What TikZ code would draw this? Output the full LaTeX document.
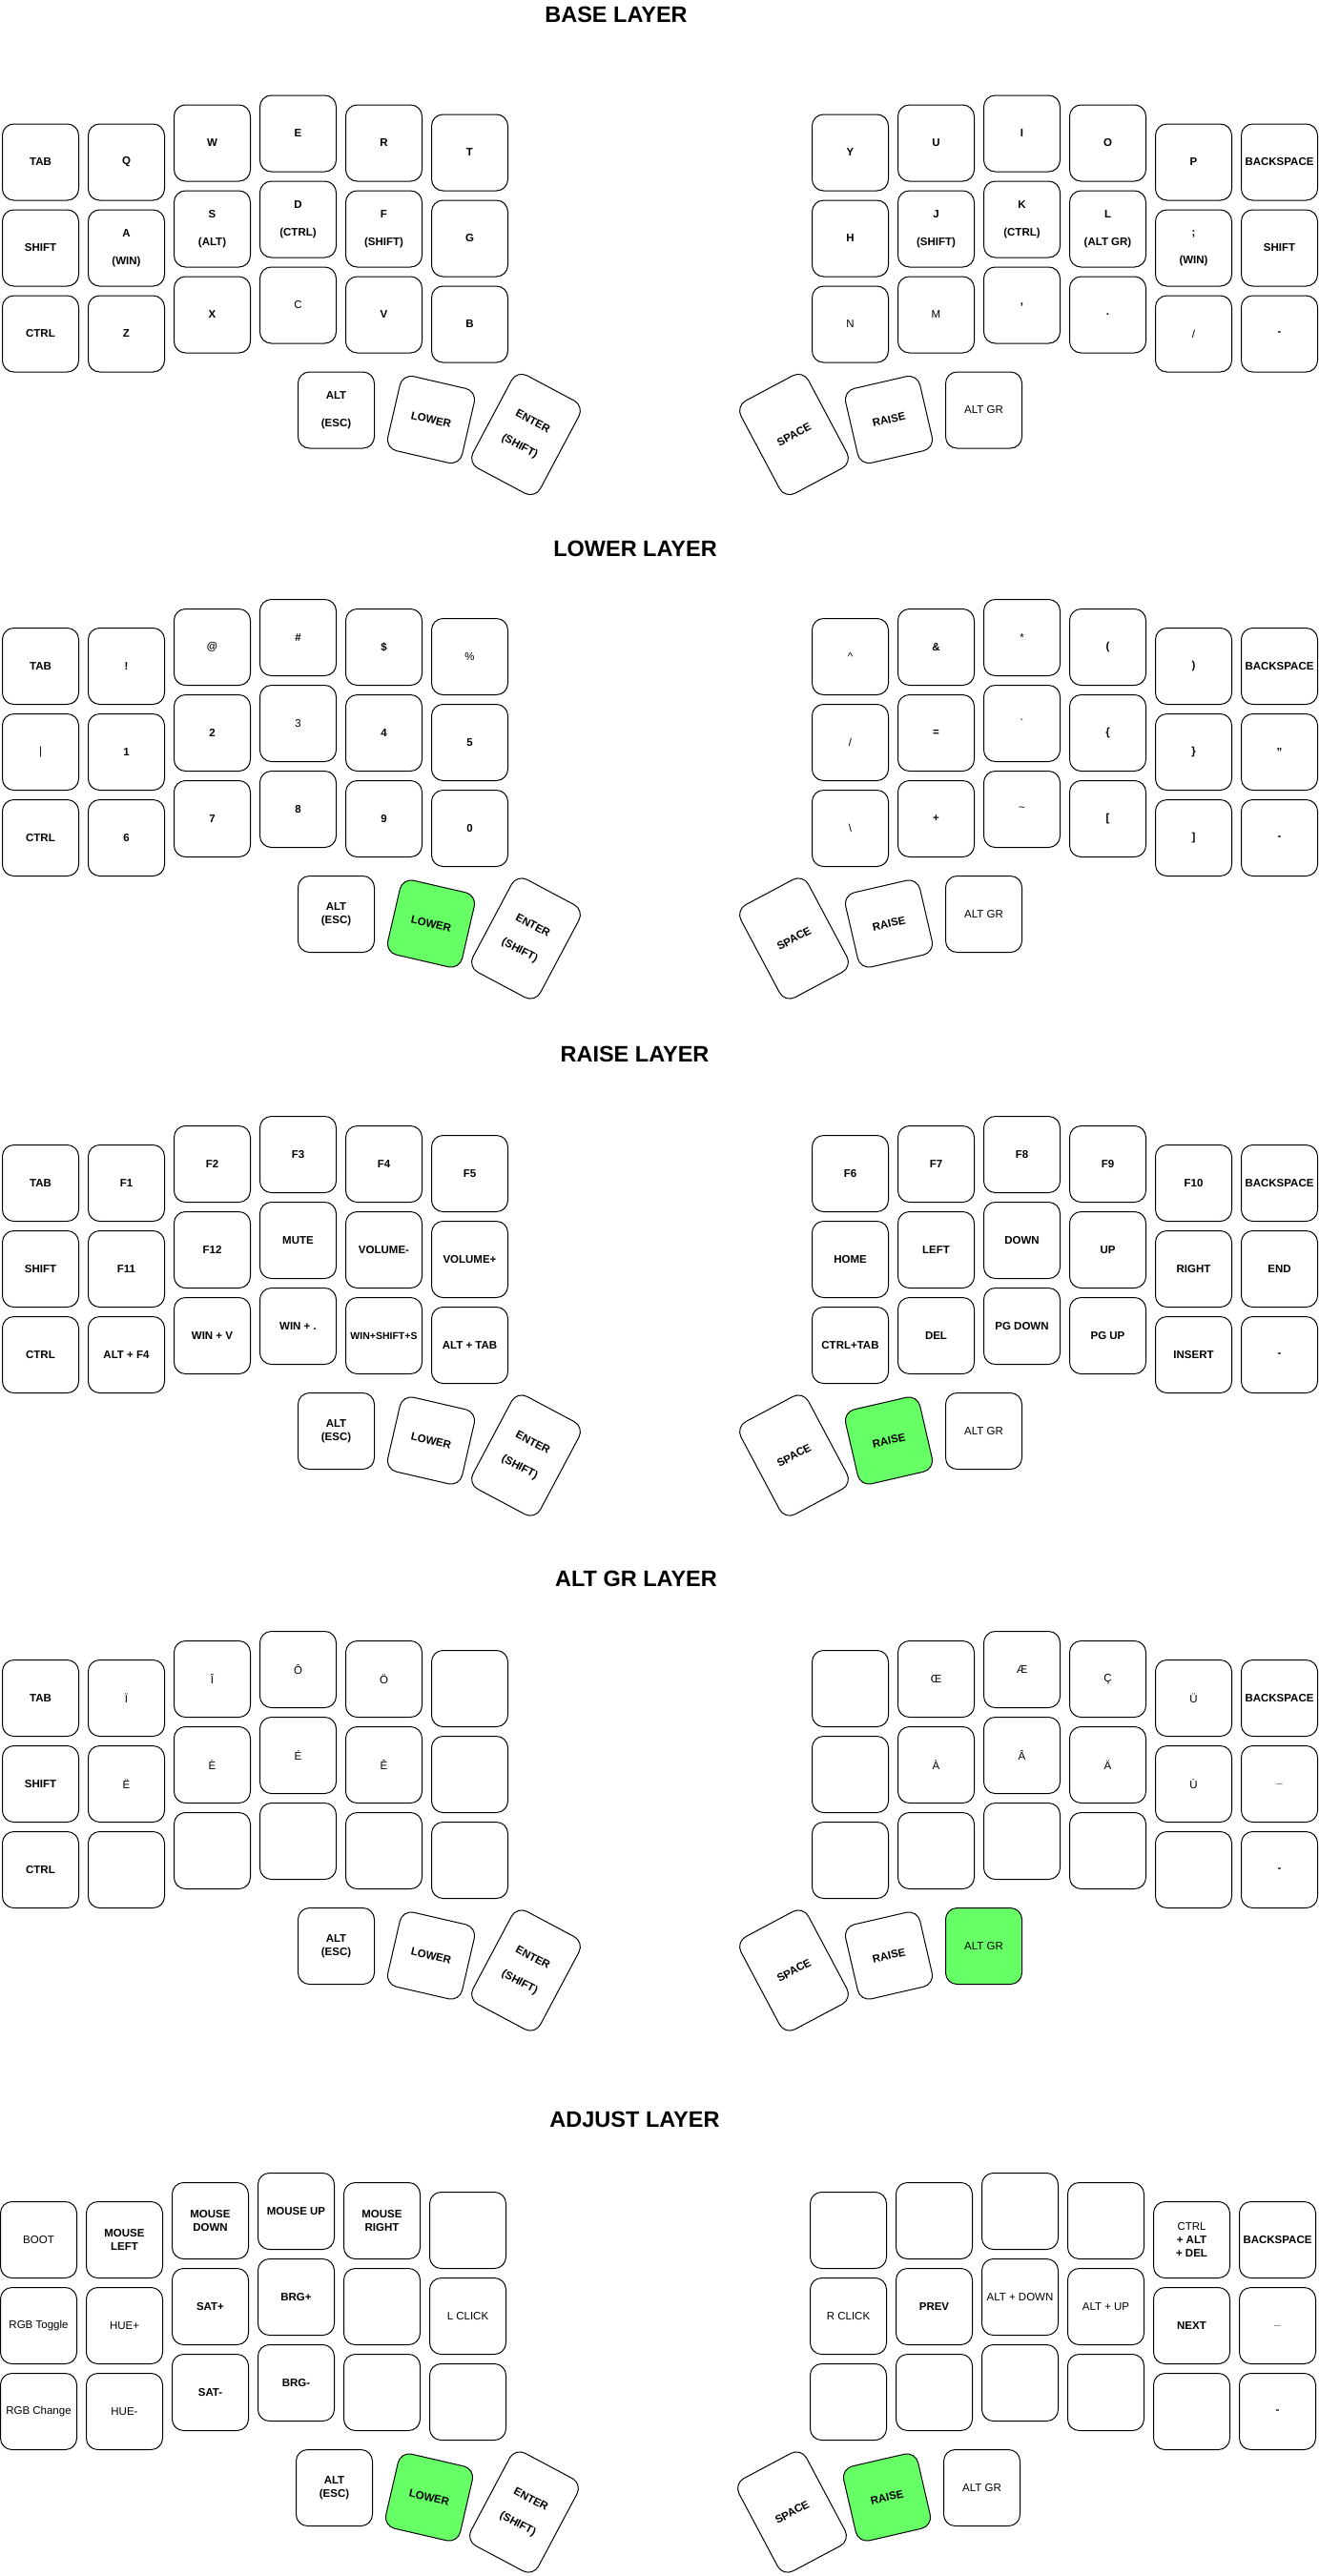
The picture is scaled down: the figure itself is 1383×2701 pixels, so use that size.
\documentclass[tikz,border=0pt]{standalone}
\usepackage{fontspec}
\setmainfont{Liberation Sans}
\usepackage{xcolor}
\definecolor{pressed}{RGB}{102,255,102}

\tikzset{
    key/.style={draw, line width=1pt, rounded corners=12pt, minimum width=80pt, minimum height=80pt,
        inner sep=0pt, align=center, font=\fontsize{11.5}{14}\selectfont\bfseries},
    tallkey/.style={key, minimum height=110pt},
    active/.style={fill=pressed},
    title/.style={font=\fontsize{23.5}{28}\selectfont\bfseries}
}

\newcommand{\gapline}{\\[15pt]}
\newcommand{\lite}{\mdseries}
\newcommand{\nokey}{}

% one row of six keys, left hand
\newcommand{\leftrow}[7]{%
    \foreach \lbl [count=\c from 0] in {#2,#3,#4,#5,#6,#7} {
        \pgfmathsetmacro{\dy}{{0,0,-20,-30,-20,-10}[\c]}
        \node[key] (\lyr-l#1\c) at (42.5+90*\c, 40+90*#1+\dy) {\lbl};
    }}
% one row of six keys, right hand
\newcommand{\rightrow}[7]{%
    \foreach \lbl [count=\c from 0] in {#2,#3,#4,#5,#6,#7} {
        \pgfmathsetmacro{\dy}{{-10,-20,-30,-20,0,0}[\c]}
        \node[key] (\lyr-r#1\c) at (891.5+90*\c, 40+90*#1+\dy) {\lbl};
    }}
% thumb keys: alt label, lower / raise / alt gr styles
\newcommand{\thumbs}[4]{%
    \node[key] (\lyr-alt) at (352.5,300) {#1};
    \node[key, rotate=-13, #2] (\lyr-lower) at (452,310) {LOWER};
    \node[tallkey, rotate=-28] (\lyr-enter) at (551.5,325.5) {ENTER\gapline(SHIFT)};
    \node[tallkey, rotate=28] (\lyr-space) at (832.5,325.5) {SPACE};
    \node[key, rotate=13, #3] (\lyr-raise) at (932,310) {RAISE};
    \node[key, #4] (\lyr-altgr) at (1031.5,300) {\lite ALT GR};
}

\begin{document}
\begin{tikzpicture}[x=1pt, y=-1pt]
    \useasboundingbox (0,0) rectangle (1383,2701);

    % Base layer
    \node[title] (base-title) at (646,15.5) {BASE LAYER};
    \begin{scope}[shift={(0,130)}]
        \def\lyr{base}
        \leftrow{0}{TAB}{Q}{W}{E}{R}{T}
        \leftrow{1}{SHIFT}{A\gapline(WIN)}{S\gapline(ALT)}{D\gapline(CTRL)}{F\gapline(SHIFT)}{G}
        \leftrow{2}{CTRL}{Z}{X}{\lite C}{V}{B}
        \rightrow{0}{Y}{U}{I}{O}{P}{BACKSPACE}
        \rightrow{1}{H}{J\gapline(SHIFT)}{K\gapline(CTRL)}{L\gapline(ALT GR)}{;\gapline(WIN)}{SHIFT}
        \rightrow{2}{\lite N}{\lite M}{{,}}{.}{\lite /}{-}
        \thumbs{ALT\gapline(ESC)}{}{}{}
    \end{scope}

    % Lower layer
    \node[title] (lower-title) at (666,575) {LOWER LAYER};
    \begin{scope}[shift={(0,658.5)}]
        \def\lyr{lower}
        \leftrow{0}{TAB}{!}{@}{\#}{\$}{\lite\%}
        \leftrow{1}{\lite |}{1}{2}{\lite 3}{4}{5}
        \leftrow{2}{CTRL}{6}{7}{8}{9}{0}
        \rightrow{0}{\lite\textasciicircum}{\&}{\lite *}{{(}}{{)}}{BACKSPACE}
        \rightrow{1}{\lite /}{=}{\lite\textasciigrave}{\{}{\}}{"}
        \rightrow{2}{\lite\textbackslash}{+}{\lite\textasciitilde}{{[}}{{]}}{-}
        \thumbs{ALT\\(ESC)}{active}{}{}
    \end{scope}

    % Raise layer
    \node[title] (raise-title) at (665.5,1105) {RAISE LAYER};
    \begin{scope}[shift={(0,1200.5)}]
        \def\lyr{raise}
        \leftrow{0}{TAB}{F1}{F2}{F3}{F4}{F5}
        \leftrow{1}{SHIFT}{F11}{F12}{MUTE}{VOLUME-}{VOLUME+}
        \leftrow{2}{CTRL}{ALT + F4}{WIN + V}{WIN + .}{\fontsize{10.5}{12}\selectfont WIN+SHIFT+S}{ALT + TAB}
        \rightrow{0}{F6}{F7}{F8}{F9}{F10}{BACKSPACE}
        \rightrow{1}{HOME}{LEFT}{DOWN}{UP}{RIGHT}{END}
        \rightrow{2}{CTRL+TAB}{DEL}{PG DOWN}{PG UP}{INSERT}{-}
        \thumbs{ALT\\(ESC)}{}{active}{}
    \end{scope}

    % Alt Gr layer
    \node[title] (altgr-title) at (667,1655) {ALT GR LAYER};
    \begin{scope}[shift={(0,1740.5)}]
        \def\lyr{altgr}
        \leftrow{0}{TAB}{\lite Ï}{\lite Î}{\lite Ô}{\lite Ö}{\nokey}
        \leftrow{1}{SHIFT}{\lite Ë}{\lite È}{\lite É}{\lite Ê}{\nokey}
        \leftrow{2}{CTRL}{\nokey}{\nokey}{\nokey}{\nokey}{\nokey}
        \rightrow{0}{\nokey}{\lite Œ}{\lite Æ}{\lite Ç}{\lite Ü}{BACKSPACE}
        \rightrow{1}{\nokey}{\lite À}{\lite Â}{\lite Ä}{\lite Ù}{\_}
        \rightrow{2}{\nokey}{\nokey}{\nokey}{\nokey}{\nokey}{-}
        \thumbs{ALT\\(ESC)}{}{}{active}
    \end{scope}

    % Adjust layer
    \node[title] (adjust-title) at (665.5,2222.5) {ADJUST LAYER};
    \begin{scope}[shift={(-2,2308.5)}]
        \def\lyr{adjust}
        \leftrow{0}{\lite BOOT}{MOUSE\\LEFT}{MOUSE\\DOWN}{MOUSE UP}{MOUSE\\RIGHT}{\nokey}
        \leftrow{1}{\lite RGB Toggle}{\lite HUE+}{SAT+}{BRG+}{\nokey}{\lite L CLICK}
        \leftrow{2}{\lite RGB Change}{\lite HUE-}{SAT-}{BRG-}{\nokey}{\nokey}
        \rightrow{0}{\nokey}{\nokey}{\nokey}{\nokey}{\lite CTRL\\+ ALT\\+ DEL}{BACKSPACE}
        \rightrow{1}{\lite R CLICK}{PREV}{\lite ALT + DOWN}{\lite ALT + UP}{NEXT}{\_}
        \rightrow{2}{\nokey}{\nokey}{\nokey}{\nokey}{\nokey}{-}
        \thumbs{ALT\\(ESC)}{active}{active}{}
    \end{scope}
\end{tikzpicture}
\end{document}
